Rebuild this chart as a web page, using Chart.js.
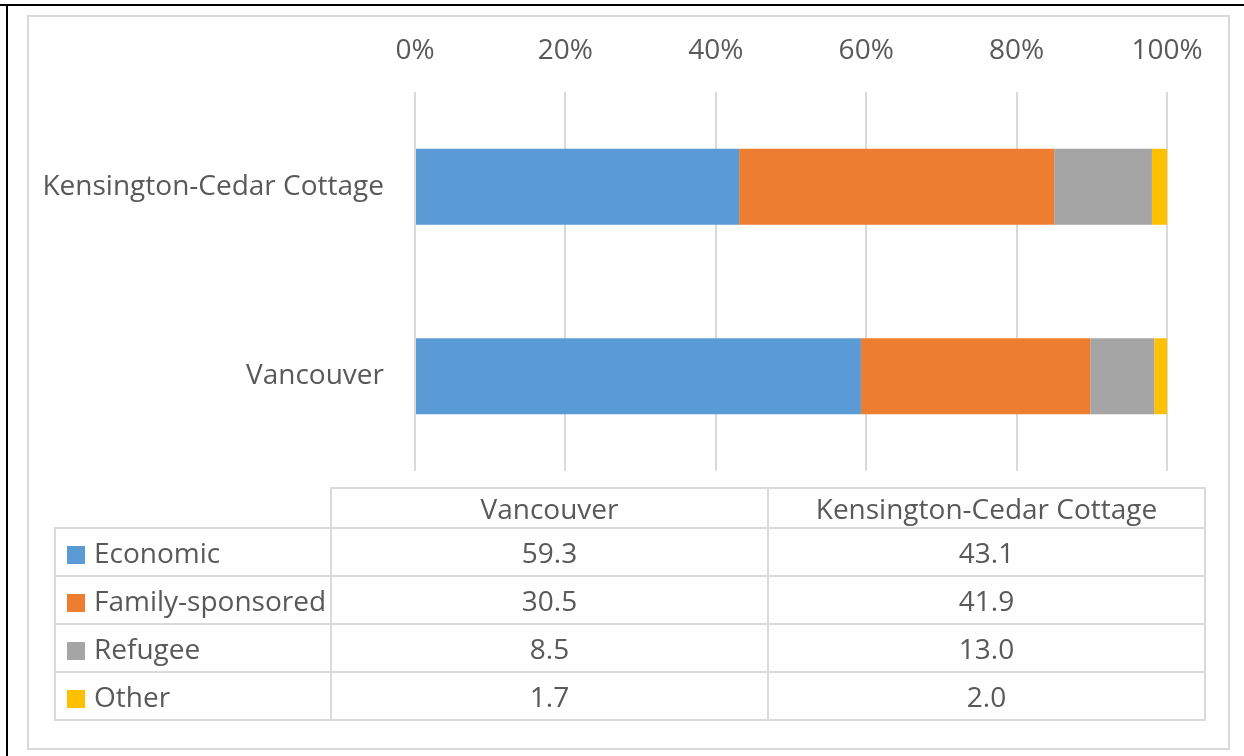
<!DOCTYPE html>
<html>
<head>
<meta charset="utf-8">
<script src="https://cdn.jsdelivr.net/npm/chart.js@4.4.1/dist/chart.umd.min.js"></script>
<style>
  html, body { margin: 0; padding: 0; background: #fff; }
  body { width: 1244px; height: 756px; position: relative; overflow: hidden; font-family: "Open Sans", sans-serif; }
  #frameTop { position: absolute; left: 0; top: 4px; width: 1244px; height: 2px; background: #000; }
  #frameLeft { position: absolute; left: 6px; top: 4px; width: 2px; height: 752px; background: #000; }
  #inner { position: absolute; left: 27px; top: 15px; width: 1199px; height: 731px; border: 2px solid #d9d9d9; }
  #wrap { position: absolute; left: 0; top: 0; width: 1244px; height: 756px; }
  #dataTable { position: absolute; left: 54px; top: 487px; border-collapse: collapse; color: #595959; font-size: 28px; }
  #dataTable td { border: 2px solid #dadada; padding: 0; text-align: center; box-sizing: border-box; line-height: 1; }
  #dataTable tr.head td { height: 40px; }
  #dataTable tr.row td { height: 48px; }
  #dataTable td.key { text-align: left; padding-left: 11px; width: 276px; }
  #dataTable td.val { width: 437px; }
  #dataTable td.blank { border: none; }
  .swatch { display: inline-block; width: 18px; height: 18px; margin-right: 9px; vertical-align: -1px; }
</style>
</head>
<body>
<div id="frameTop"></div>
<div id="frameLeft"></div>
<div id="inner"></div>
<div id="wrap"><canvas id="barChart"></canvas></div>
<table id="dataTable"></table>
<script>
// categories listed bottom-to-top like the original spreadsheet
const categories = ['Vancouver', 'Kensington-Cedar Cottage'];
const seriesNames = ['Economic', 'Family-sponsored', 'Refugee', 'Other'];
const economic = [59.3, 43.1];
const familySponsored = [30.5, 41.9];
const refugee = [8.5, 13.0];
const other = [1.7, 2.0];
const tickLabels = ['0%', '20%', '40%', '60%', '80%', '100%'];
const colors = ['#5b9bd5', '#ed7d31', '#a5a5a5', '#ffc000'];

const seriesValues = [economic, familySponsored, refugee, other];
const textColor = '#595959';
const fontFamily = '"Open Sans", sans-serif';

const datasets = seriesNames.map((name, i) => ({
    label: name,
    data: seriesValues[i],
    backgroundColor: colors[i],
    borderWidth: 0,
    barPercentage: 0.8,
    categoryPercentage: 0.5
}));

new Chart(document.getElementById('barChart'), {
    type: 'bar',
    data: { labels: categories, datasets: datasets },
    options: {
        indexAxis: 'y',
        responsive: true,
        maintainAspectRatio: false,
        animation: false,
        layout: { padding: { left: 0, top: 0, right: 77, bottom: 285 } },
        plugins: { legend: { display: false }, tooltip: { enabled: false } },
        scales: {
            x: {
                position: 'top',
                stacked: true,
                min: 0,
                max: 100,
                afterFit: (scale) => { scale.height = 92; },
                afterBuildTicks: (scale) => {
                    scale.ticks = tickLabels.map((t, i) => ({ value: i * 20 }));
                },
                ticks: {
                    callback: (v) => tickLabels[v / 20],
                    color: textColor,
                    padding: 24,
                    font: { family: fontFamily, size: 28 }
                },
                grid: { color: '#d9d9d9', lineWidth: 2, drawTicks: false },
                border: { display: false }
            },
            y: {
                stacked: true,
                reverse: true,
                afterFit: (scale) => { scale.width = 415; },
                ticks: {
                    color: textColor,
                    padding: 31,
                    font: { family: fontFamily, size: 28 }
                },
                grid: { display: false, drawTicks: false },
                border: { display: false }
            }
        }
    }
});

// data table under the chart, built from the same arrays
const table = document.getElementById('dataTable');
let html = '<tr class="head"><td class="blank"></td>' + categories.map(c => '<td class="val">' + c + '</td>').join('') + '</tr>';
seriesNames.forEach((name, i) => {
    html += '<tr class="row"><td class="key"><span class="swatch" style="background:' + colors[i] + '"></span>' + name + '</td>';
    html += seriesValues[i].map(v => '<td class="val">' + v.toFixed(1) + '</td>').join('') + '</tr>';
});
table.innerHTML = html;
</script>
</body>
</html>
